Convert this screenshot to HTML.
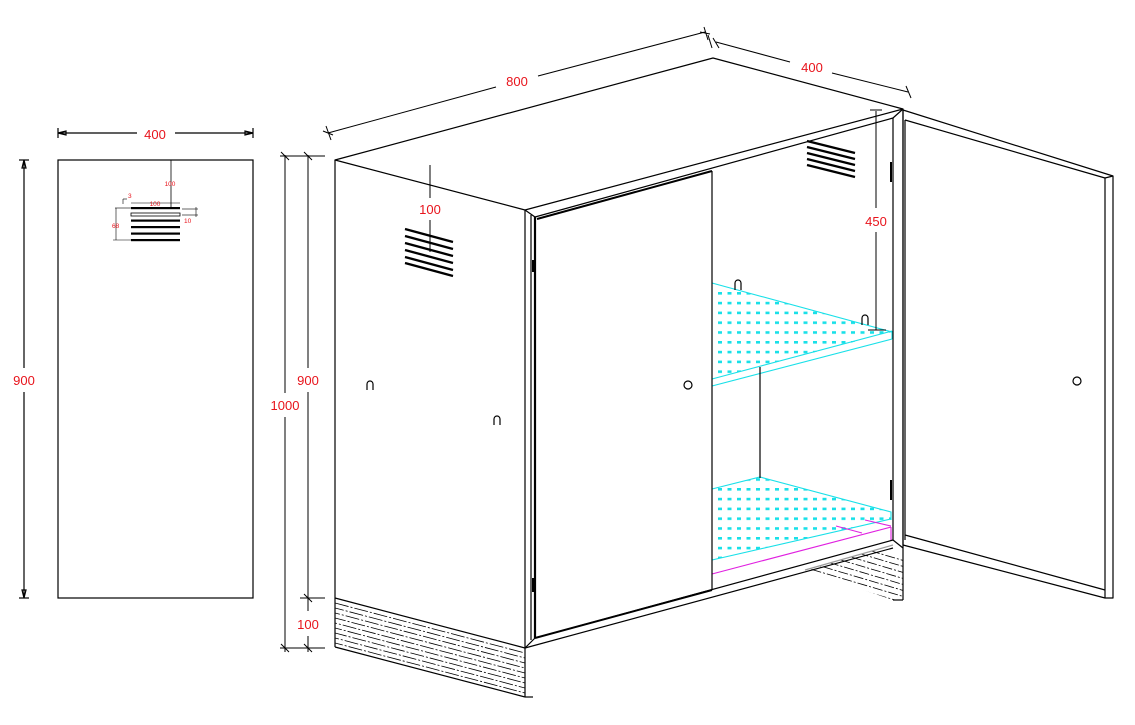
<!DOCTYPE html>
<html><head><meta charset="utf-8"><style>
html,body{margin:0;padding:0;background:#fff;}
svg{display:block;}
text{font-family:"Liberation Sans",sans-serif;fill:#e8141c;}
</style></head><body>
<svg width="1135" height="725" viewBox="0 0 1135 725" xmlns="http://www.w3.org/2000/svg">
<defs>
<pattern id="dots" width="9.5" height="9.8" patternUnits="userSpaceOnUse" x="718" y="292">
<rect x="0" y="0" width="4" height="2.6" fill="#19e0e8"/>
</pattern>
<clipPath id="sh1"><polygon points="712,283 892,332 712,379"/></clipPath>
<clipPath id="sh2"><polygon points="712,489 760,477 891,512 891,519 712,560"/></clipPath>
<clipPath id="pl1"><polygon points="335,598 525,648 525,697 335,647"/></clipPath>
<clipPath id="pl2"><polygon points="805,570 893,545 903,545 903,600 893,600"/></clipPath>
</defs>
<g stroke="#000" stroke-width="1.2" fill="none">
<rect x="58" y="160" width="195" height="438"/>
<line x1="58" y1="133" x2="137" y2="133"/><line x1="175" y1="133" x2="253" y2="133"/>
<line x1="58" y1="128" x2="58" y2="138"/><line x1="253" y1="128" x2="253" y2="138"/>
<polygon points="58,133 66,131 66,135"/><polygon points="253,133 245,131 245,135"/>
<line x1="24" y1="160" x2="24" y2="368"/><line x1="24" y1="392" x2="24" y2="598"/>
<line x1="19" y1="160" x2="29" y2="160"/><line x1="19" y1="598" x2="29" y2="598"/>
<polygon points="24,160 22,168 26,168"/><polygon points="24,598 22,590 26,590"/>
<line x1="171" y1="160" x2="171" y2="209" stroke-width="0.8"/>
<line x1="123" y1="204" x2="123" y2="199" stroke-width="0.6"/><line x1="123" y1="199" x2="127" y2="199" stroke-width="0.6"/>
<line x1="131" y1="203" x2="180" y2="203" stroke-width="0.6"/>
<line x1="115" y1="208" x2="131" y2="208" stroke-width="0.6"/>
<line x1="116" y1="208" x2="116" y2="240" stroke-width="0.6"/>
<line x1="113" y1="240" x2="131" y2="240" stroke-width="0.6"/>
<line x1="182" y1="209" x2="198" y2="209" stroke-width="0.6"/><line x1="182" y1="215" x2="198" y2="215" stroke-width="0.6"/>
<line x1="196" y1="207" x2="196" y2="217" stroke-width="0.6"/>
</g>
<g fill="#000">
<rect x="131" y="207" width="49" height="2.2"/>
<rect x="131" y="213" width="49" height="3" fill="none" stroke="#000" stroke-width="0.8"/>
<rect x="131" y="219.5" width="49" height="2.2"/>
<rect x="131" y="226" width="49" height="2.2"/>
<rect x="131" y="232.5" width="49" height="2.2"/>
<rect x="131" y="239" width="49" height="2.2"/>
</g>
<text x="155" y="139" font-size="13" text-anchor="middle">400</text>
<text x="24" y="385" font-size="13" text-anchor="middle">900</text>
<text x="170" y="186" font-size="6.5" text-anchor="middle">100</text>
<text x="128" y="198" font-size="6.5">3</text>
<text x="155" y="206" font-size="6.5" text-anchor="middle">100</text>
<text x="184" y="223" font-size="6.5">10</text>
<text x="112" y="228" font-size="6.5">68</text>

<g clip-path="url(#pl1)" stroke="#000" stroke-width="0.8" stroke-dasharray="14,2,2,2">
<line x1="335" y1="603" x2="525" y2="653"/><line x1="335" y1="608" x2="525" y2="658" stroke-dashoffset="5"/>
<line x1="335" y1="613" x2="525" y2="663" stroke-dashoffset="9"/><line x1="335" y1="618" x2="525" y2="668" stroke-dashoffset="3"/>
<line x1="335" y1="623" x2="525" y2="673" stroke-dashoffset="12"/><line x1="335" y1="628" x2="525" y2="678" stroke-dashoffset="7"/>
<line x1="335" y1="633" x2="525" y2="683" stroke-dashoffset="2"/><line x1="335" y1="638" x2="525" y2="688" stroke-dashoffset="10"/>
<line x1="335" y1="643" x2="525" y2="693" stroke-dashoffset="6"/>
</g>
<g clip-path="url(#pl2)" stroke="#000" stroke-width="0.8" stroke-dasharray="10,2,2,2">
<line x1="800" y1="572" x2="905" y2="603"/><line x1="800" y1="566" x2="905" y2="597" stroke-dashoffset="4"/>
<line x1="800" y1="560" x2="905" y2="591" stroke-dashoffset="8"/><line x1="800" y1="554" x2="905" y2="585" stroke-dashoffset="2"/>
<line x1="800" y1="548" x2="905" y2="579" stroke-dashoffset="6"/><line x1="800" y1="542" x2="905" y2="573" stroke-dashoffset="10"/>
<line x1="800" y1="536" x2="905" y2="567" stroke-dashoffset="3"/><line x1="800" y1="530" x2="905" y2="561" stroke-dashoffset="7"/>
</g>

<rect x="700" y="270" width="200" height="120" fill="url(#dots)" clip-path="url(#sh1)"/>
<rect x="700" y="470" width="200" height="100" fill="url(#dots)" clip-path="url(#sh2)"/>
<g stroke="#19e0e8" stroke-width="1.1" fill="none">
<line x1="712" y1="283" x2="892" y2="332"/><line x1="712" y1="379" x2="892" y2="331"/>
<line x1="892" y1="331" x2="892" y2="339"/><line x1="712" y1="386" x2="892" y2="339"/>
<polyline points="712,489 760,477 891,512 891,520"/><line x1="712" y1="560" x2="891" y2="519"/>
</g>
<g stroke="#e020e0" stroke-width="1.1" fill="none">
<line x1="712" y1="574" x2="891" y2="527"/><line x1="891" y1="527" x2="891" y2="540"/>
<line x1="865" y1="520" x2="891" y2="526"/><line x1="836" y1="526" x2="862" y2="533"/>
</g>

<g stroke="#000" stroke-width="1.2" fill="none" stroke-linejoin="round">
<polygon points="335,160 713,58 903,109 525,210"/>
<line x1="335" y1="160" x2="335" y2="647"/>
<line x1="525" y1="210" x2="525" y2="697"/>
<line x1="335" y1="598" x2="525" y2="648"/>
<line x1="335" y1="647" x2="525" y2="697"/>
<line x1="525" y1="697" x2="533" y2="697"/>
<line x1="525" y1="210" x2="535" y2="217"/>
<line x1="535" y1="217" x2="893" y2="118"/>
<line x1="903" y1="109" x2="893" y2="118"/>
<line x1="537" y1="219" x2="712" y2="171" stroke-width="2"/>
<line x1="535" y1="217" x2="535" y2="638" stroke-width="2.2"/>
<line x1="531" y1="215" x2="531" y2="640"/>
<line x1="535" y1="638" x2="712" y2="590" stroke-width="2"/>
<line x1="712" y1="171" x2="712" y2="590"/>
<line x1="525" y1="648" x2="535" y2="638"/>
<line x1="525" y1="648" x2="893" y2="548"/>
<line x1="535" y1="638" x2="893" y2="540"/>
<line x1="760" y1="367" x2="760" y2="478"/>
<line x1="893" y1="118" x2="893" y2="540"/>
<line x1="903" y1="109" x2="903" y2="548"/>
<line x1="893" y1="540" x2="903" y2="548"/>
<line x1="903" y1="548" x2="903" y2="600"/>
<line x1="893" y1="600" x2="903" y2="600"/>
<line x1="805" y1="570" x2="893" y2="545" stroke="#999"/>
<polygon points="903,110 1113,176 1113,598 1105,598 903,545"/>
<line x1="905" y1="120" x2="1105" y2="178"/>
<line x1="1105" y1="178" x2="1105" y2="598"/>
<line x1="1105" y1="178" x2="1113" y2="176"/>
<line x1="905" y1="535" x2="1105" y2="590"/>
<line x1="905" y1="120" x2="905" y2="540"/>
<line x1="533" y1="260" x2="533" y2="272" stroke-width="2"/>
<line x1="533" y1="578" x2="533" y2="592" stroke-width="2"/>
<line x1="891" y1="162" x2="891" y2="182" stroke-width="2"/>
<line x1="891" y1="480" x2="891" y2="500" stroke-width="2"/>
<path d="M367,390 v-6 a3,3 0 0 1 6,0 v6"/>
<path d="M494,425 v-6 a3,3 0 0 1 6,0 v6"/>
<path d="M735,290 v-7 a3,3 0 0 1 6,0 v7"/>
<path d="M862,325 v-7 a3,3 0 0 1 6,0 v7"/>
<circle cx="688" cy="385" r="4"/>
<circle cx="1077" cy="381" r="4"/>
</g>
<g stroke="#000" stroke-width="2.3">
<line x1="405" y1="229" x2="453" y2="242"/><line x1="405" y1="236" x2="453" y2="249"/>
<line x1="405" y1="243" x2="453" y2="256"/><line x1="405" y1="250" x2="453" y2="263"/>
<line x1="405" y1="257" x2="453" y2="270"/><line x1="405" y1="263" x2="453" y2="276"/>
<line x1="807" y1="141" x2="855" y2="153"/><line x1="807" y1="147" x2="855" y2="159"/>
<line x1="807" y1="153" x2="855" y2="165"/><line x1="807" y1="159" x2="855" y2="171"/>
<line x1="807" y1="165" x2="855" y2="177"/>
</g>
<g stroke="#000" stroke-width="1" fill="none">
<line x1="328" y1="133" x2="496" y2="87"/><line x1="538" y1="76" x2="705" y2="32"/>
<line x1="326" y1="126" x2="331" y2="140"/><line x1="323" y1="131" x2="333" y2="135"/>
<line x1="704" y1="27" x2="708" y2="40"/><line x1="700" y1="32" x2="710" y2="34"/>
<line x1="708" y1="35" x2="712" y2="48"/>
<line x1="716" y1="42" x2="790" y2="62"/><line x1="832" y1="73" x2="908" y2="92"/>
<line x1="713" y1="38" x2="719" y2="48"/><line x1="906" y1="86" x2="911" y2="98"/>
<line x1="876" y1="111" x2="876" y2="208"/><line x1="876" y1="232" x2="876" y2="330"/>
<line x1="870" y1="110" x2="882" y2="110"/><line x1="868" y1="330" x2="886" y2="330"/>
<line x1="430" y1="165" x2="430" y2="198"/><line x1="430" y1="220" x2="430" y2="252"/>
<line x1="285" y1="155" x2="285" y2="393"/><line x1="285" y1="417" x2="285" y2="652"/>
<line x1="308" y1="155" x2="308" y2="368"/><line x1="308" y1="392" x2="308" y2="611"/>
<line x1="308" y1="636" x2="308" y2="652"/>
<line x1="280" y1="156" x2="325" y2="156"/>
<line x1="300" y1="598" x2="325" y2="598"/>
<line x1="280" y1="648" x2="325" y2="648"/>
<line x1="281" y1="152" x2="289" y2="160"/><line x1="304" y1="152" x2="312" y2="160"/>
<line x1="304" y1="594" x2="312" y2="602"/>
<line x1="281" y1="644" x2="289" y2="652"/><line x1="304" y1="644" x2="312" y2="652"/>
</g>
<text x="517" y="86" font-size="13" text-anchor="middle">800</text>
<text x="812" y="72" font-size="13" text-anchor="middle">400</text>
<text x="876" y="226" font-size="13" text-anchor="middle">450</text>
<text x="430" y="214" font-size="13" text-anchor="middle">100</text>
<text x="285" y="410" font-size="13" text-anchor="middle">1000</text>
<text x="308" y="385" font-size="13" text-anchor="middle">900</text>
<text x="308" y="629" font-size="13" text-anchor="middle">100</text>
</svg>
</body></html>
